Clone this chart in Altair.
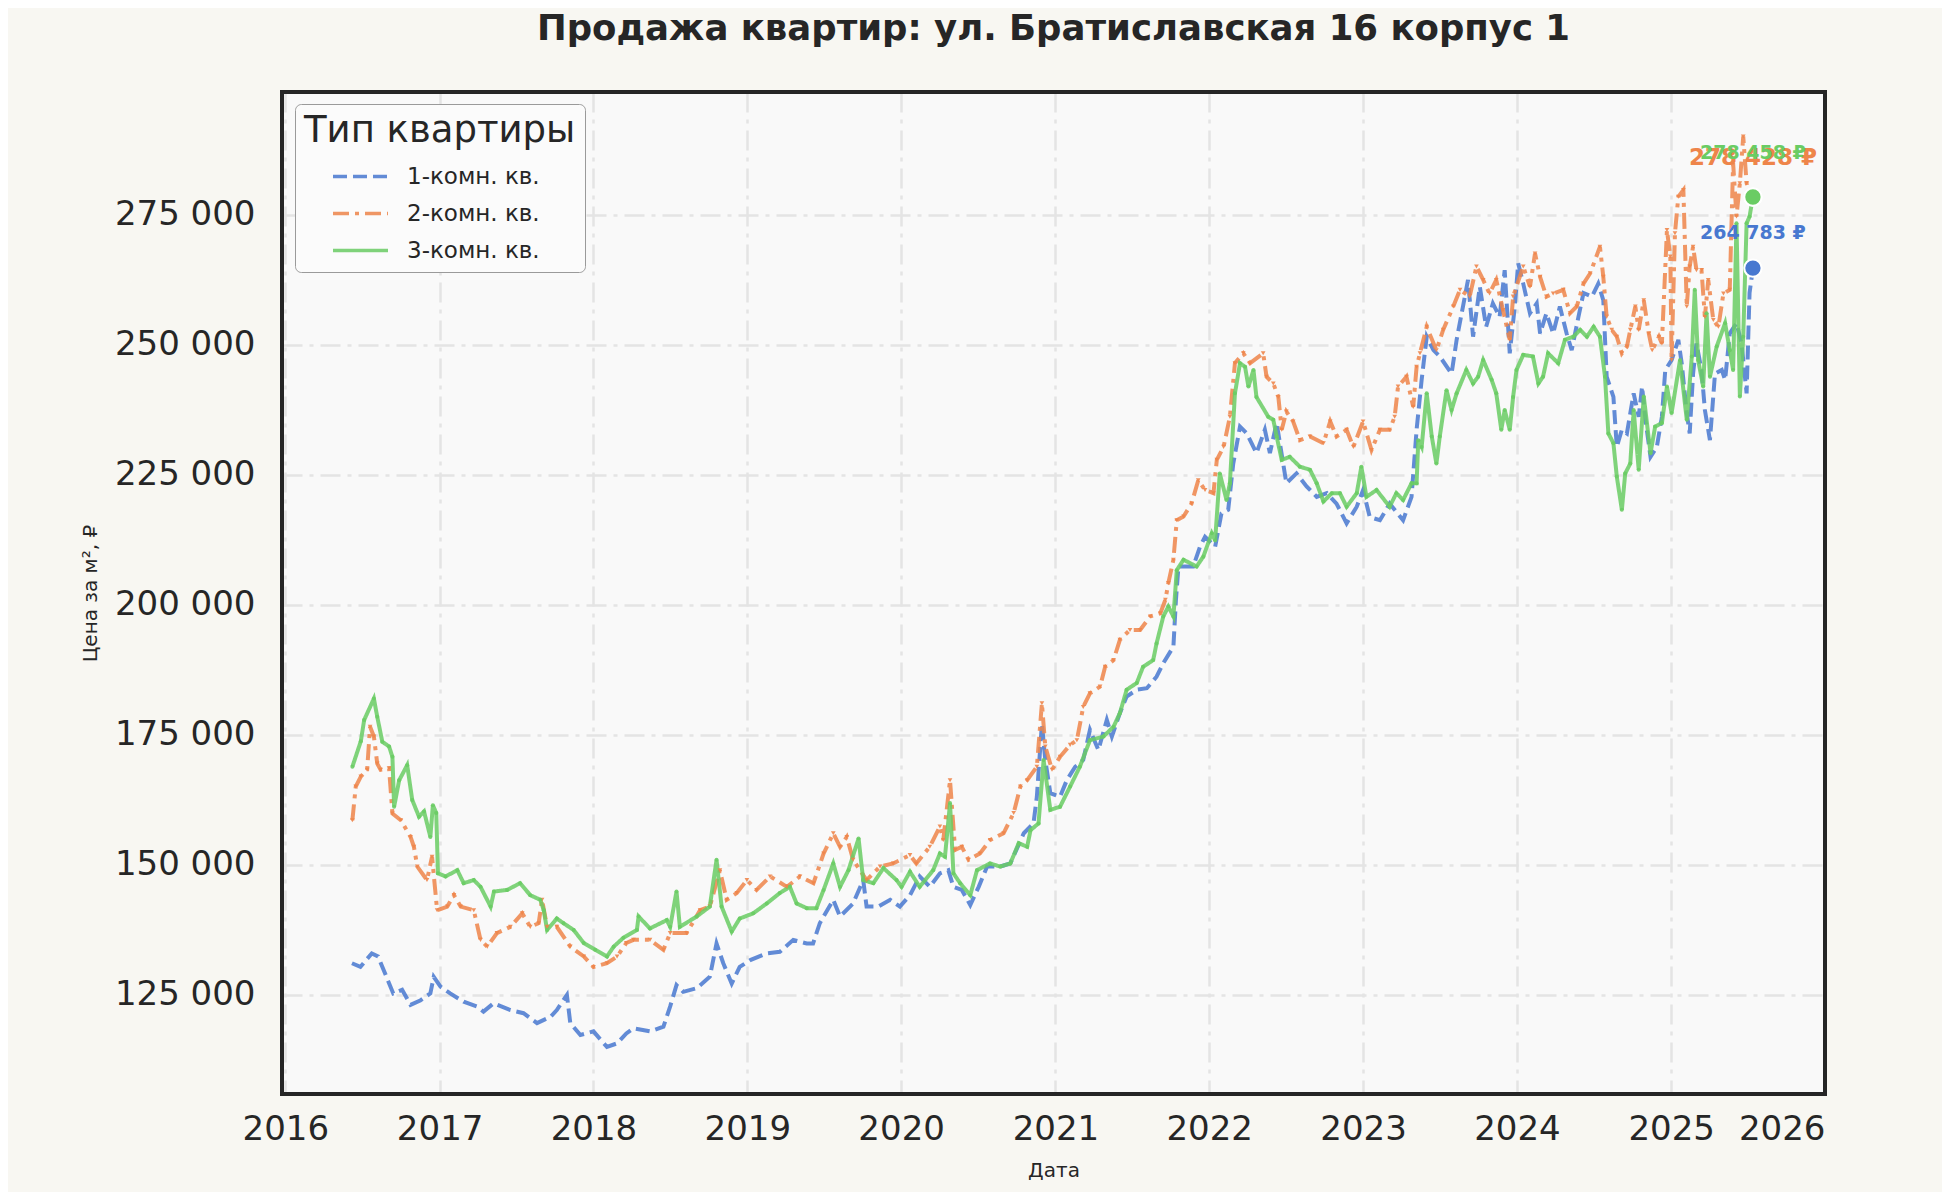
import altair as alt
import pandas as pd

TITLE = "Продажа квартир: ул. Братиславская 16 корпус 1"
series_names = ["1-комн. кв.", "2-комн. кв.", "3-комн. кв."]
colors = ["#4878D0", "#EE854A", "#6ACC64"]
y_ticks = [125000, 150000, 175000, 200000, 225000, 250000, 275000]
x_years = list(range(2016, 2027))

# (date, price per m2)
one_room = [
    ("2016-06-07", 131100), ("2016-06-27", 130400), ("2016-07-24", 133000), ("2016-08-08", 132400),
    ("2016-09-13", 125300), ("2016-10-04", 126000), ("2016-10-24", 123100), ("2016-11-17", 124000),
    ("2016-12-10", 125300), ("2016-12-18", 128500), ("2017-01-03", 126600), ("2017-01-26", 125300),
    ("2017-02-27", 123700), ("2017-03-30", 122800), ("2017-04-15", 121800), ("2017-05-09", 123400),
    ("2017-06-18", 122100), ("2017-07-19", 121500), ("2017-08-20", 119600), ("2017-09-21", 120800),
    ("2017-10-06", 122100), ("2017-10-30", 125000), ("2017-11-07", 119600), ("2017-12-01", 117300),
    ("2018-01-01", 118000), ("2018-02-02", 115000), ("2018-02-26", 115700), ("2018-03-20", 117600),
    ("2018-04-06", 118600), ("2018-05-15", 118000), ("2018-06-16", 118900), ("2018-07-02", 122800),
    ("2018-07-17", 126900), ("2018-08-02", 125600), ("2018-09-03", 126300), ("2018-10-04", 128500),
    ("2018-10-20", 134900), ("2018-11-05", 131100), ("2018-11-25", 127200), ("2018-12-14", 130400),
    ("2019-01-08", 131700), ("2019-02-16", 133000), ("2019-03-19", 133300), ("2019-04-20", 135600),
    ("2019-05-22", 134900), ("2019-06-06", 134900), ("2019-06-22", 138800), ("2019-07-24", 143300),
    ("2019-08-09", 140100), ("2019-09-09", 142600), ("2019-10-03", 147100), ("2019-10-11", 142000),
    ("2019-11-08", 142000), ("2019-12-06", 143300), ("2019-12-29", 142000), ("2020-01-22", 144200),
    ("2020-02-14", 147800), ("2020-03-09", 145800), ("2020-04-02", 148400), ("2020-04-22", 149000),
    ("2020-05-04", 145800), ("2020-05-24", 145200), ("2020-06-13", 142300), ("2020-07-03", 145800),
    ("2020-07-23", 149700), ("2020-08-23", 149700), ("2020-09-16", 150300), ("2020-10-18", 156100),
    ("2020-11-10", 158000), ("2020-11-18", 163100), ("2020-11-30", 177200), ("2020-12-08", 170200),
    ("2020-12-20", 163800), ("2021-01-12", 163100), ("2021-01-28", 166300), ("2021-02-17", 168900),
    ("2021-03-08", 170200), ("2021-03-24", 176000), ("2021-04-13", 172100), ("2021-05-03", 177900),
    ("2021-05-15", 174700), ("2021-06-03", 179200), ("2021-06-19", 182400), ("2021-07-13", 183700),
    ("2021-08-06", 184000), ("2021-08-29", 186200), ("2021-09-14", 188800), ("2021-10-08", 192000),
    ("2021-10-14", 201000), ("2021-10-20", 207400), ("2021-11-24", 207400), ("2021-12-10", 211200),
    ("2021-12-22", 213100), ("2022-01-15", 211200), ("2022-01-30", 217600), ("2022-02-15", 218300),
    ("2022-02-27", 227200), ("2022-03-15", 234300), ("2022-03-31", 233000), ("2022-04-23", 229200),
    ("2022-05-13", 233700), ("2022-05-25", 229200), ("2022-06-10", 235000), ("2022-07-03", 223400),
    ("2022-07-27", 225300), ("2022-08-20", 222800), ("2022-09-13", 220800), ("2022-10-07", 221500),
    ("2022-10-30", 219500), ("2022-11-23", 215700), ("2022-12-17", 218900), ("2023-01-01", 222100),
    ("2023-01-17", 216900), ("2023-02-10", 216300), ("2023-03-05", 219500), ("2023-04-06", 216300),
    ("2023-04-26", 220800), ("2023-05-08", 233700), ("2023-05-20", 243300), ("2023-06-01", 251600),
    ("2023-06-17", 249000), ("2023-07-02", 247800), ("2023-07-30", 244500), ("2023-08-11", 251000),
    ("2023-08-26", 257400), ("2023-09-07", 262500), ("2023-09-19", 251600), ("2023-10-05", 261200),
    ("2023-10-20", 253500), ("2023-11-05", 258000), ("2023-11-21", 255400), ("2023-12-03", 264400),
    ("2023-12-15", 248400), ("2023-12-27", 257400), ("2024-01-04", 265700), ("2024-01-16", 261800),
    ("2024-02-01", 256100), ("2024-02-17", 258000), ("2024-02-25", 252200), ("2024-03-11", 256100),
    ("2024-03-27", 252200), ("2024-04-12", 257400), ("2024-04-28", 252200), ("2024-05-10", 249000),
    ("2024-05-26", 255400), ("2024-06-07", 260000), ("2024-06-27", 259300), ("2024-07-12", 261800),
    ("2024-07-24", 258600), ("2024-08-01", 243900), ("2024-08-17", 240000), ("2024-08-25", 230400),
    ("2024-09-06", 233700), ("2024-09-18", 233000), ("2024-10-04", 240700), ("2024-10-16", 236200),
    ("2024-10-24", 242000), ("2024-11-01", 235600), ("2024-11-13", 228500), ("2024-11-28", 230400),
    ("2024-12-10", 236200), ("2024-12-18", 245200), ("2025-01-02", 247100), ("2025-01-18", 251000),
    ("2025-01-26", 246500), ("2025-02-07", 236900), ("2025-02-14", 233000), ("2025-02-22", 244500),
    ("2025-03-02", 250300), ("2025-03-14", 245200), ("2025-03-22", 237500), ("2025-04-03", 231700),
    ("2025-04-15", 244500), ("2025-05-01", 245200), ("2025-05-09", 243300), ("2025-05-20", 252200),
    ("2025-06-05", 254200), ("2025-06-17", 250300), ("2025-06-29", 240700), ("2025-07-06", 260000),
    ("2025-07-14", 264783),
]

two_room = [
    ("2016-06-08", 158600), ("2016-06-16", 165100), ("2016-06-28", 167000), ("2016-07-13", 168300),
    ("2016-07-20", 176600), ("2016-07-29", 174700), ("2016-08-06", 169500), ("2016-08-14", 168300),
    ("2016-09-03", 168600), ("2016-09-11", 159900), ("2016-10-01", 158600), ("2016-10-24", 155400),
    ("2016-11-01", 153500), ("2016-11-09", 149700), ("2016-12-02", 147100), ("2016-12-14", 151600),
    ("2016-12-26", 141300), ("2017-01-19", 142000), ("2017-02-04", 144200), ("2017-02-20", 142000),
    ("2017-03-23", 141300), ("2017-04-08", 135600), ("2017-04-24", 134300), ("2017-05-17", 136900),
    ("2017-06-18", 138100), ("2017-07-16", 140700), ("2017-08-04", 138100), ("2017-08-24", 138800),
    ("2017-09-01", 143300), ("2017-09-13", 138100), ("2017-10-06", 138100), ("2017-11-07", 134300),
    ("2017-12-09", 132400), ("2018-01-01", 130400), ("2018-02-02", 131100), ("2018-02-26", 132400),
    ("2018-03-20", 135000), ("2018-04-06", 135600), ("2018-05-15", 135600), ("2018-06-16", 133700),
    ("2018-07-02", 136900), ("2018-08-10", 136900), ("2018-09-11", 141300), ("2018-10-04", 142000),
    ("2018-10-28", 149000), ("2018-11-13", 143300), ("2018-12-07", 144600), ("2018-12-31", 147100),
    ("2019-01-23", 145200), ("2019-02-24", 147800), ("2019-04-05", 145800), ("2019-05-06", 147800),
    ("2019-06-07", 146500), ("2019-07-01", 152200), ("2019-07-24", 156100), ("2019-08-09", 153500),
    ("2019-08-25", 155400), ("2019-09-09", 151000), ("2019-10-11", 147100), ("2019-11-12", 149700),
    ("2019-12-13", 150300), ("2020-01-22", 151900), ("2020-02-06", 150300), ("2020-03-09", 153500),
    ("2020-04-02", 157400), ("2020-04-10", 154800), ("2020-04-26", 166300), ("2020-05-08", 152900),
    ("2020-05-24", 153500), ("2020-06-09", 151000), ("2020-07-06", 152200), ("2020-07-30", 154800),
    ("2020-08-31", 156100), ("2020-09-24", 160000), ("2020-10-10", 165100), ("2020-10-26", 166300),
    ("2020-11-18", 168900), ("2020-11-30", 181100), ("2020-12-08", 172800), ("2020-12-24", 168300),
    ("2021-01-12", 170800), ("2021-02-05", 173100), ("2021-02-21", 174000), ("2021-03-08", 180400),
    ("2021-03-24", 183000), ("2021-04-17", 184300), ("2021-04-29", 188100), ("2021-05-19", 189400),
    ("2021-06-03", 193300), ("2021-06-27", 195200), ("2021-07-21", 195200), ("2021-08-14", 197800),
    ("2021-09-07", 198400), ("2021-09-19", 201000), ("2021-09-26", 204200), ("2021-10-08", 208700),
    ("2021-10-16", 216300), ("2021-11-01", 217000), ("2021-11-20", 219500), ("2021-12-06", 224000),
    ("2021-12-22", 222100), ("2022-01-11", 221500), ("2022-01-19", 227900), ("2022-02-04", 230400),
    ("2022-02-19", 236200), ("2022-03-03", 246500), ("2022-03-23", 248400), ("2022-04-08", 246500),
    ("2022-05-09", 248400), ("2022-05-17", 243900), ("2022-06-02", 242600), ("2022-06-14", 240000),
    ("2022-06-22", 233700), ("2022-07-03", 237200), ("2022-07-19", 235300), ("2022-08-04", 231700),
    ("2022-08-28", 232400), ("2022-09-29", 231100), ("2022-10-15", 235300), ("2022-10-30", 232400),
    ("2022-11-23", 233700), ("2022-12-09", 230400), ("2023-01-01", 235300), ("2023-01-21", 229800),
    ("2023-02-10", 233700), ("2023-03-05", 233700), ("2023-03-17", 236200), ("2023-03-25", 242000),
    ("2023-04-14", 243900), ("2023-04-30", 238100), ("2023-05-08", 245800), ("2023-05-16", 248400),
    ("2023-06-01", 253500), ("2023-06-24", 249000), ("2023-07-10", 252900), ("2023-08-03", 257400),
    ("2023-08-19", 260600), ("2023-09-11", 259300), ("2023-09-27", 265100), ("2023-10-13", 262500),
    ("2023-10-28", 259900), ("2023-11-13", 262500), ("2023-11-29", 256700), ("2023-12-15", 251000),
    ("2023-12-23", 259300), ("2024-01-16", 265100), ("2024-02-01", 261200), ("2024-02-13", 267600),
    ("2024-02-25", 263100), ("2024-03-11", 259300), ("2024-03-27", 259900), ("2024-04-20", 260600),
    ("2024-05-06", 256100), ("2024-05-22", 257400), ("2024-06-07", 261800), ("2024-06-23", 263800),
    ("2024-07-16", 268900), ("2024-07-24", 263100), ("2024-08-01", 255400), ("2024-08-13", 252900),
    ("2024-08-25", 251600), ("2024-09-06", 248400), ("2024-09-18", 249700), ("2024-09-26", 252900),
    ("2024-10-08", 257400), ("2024-10-16", 252900), ("2024-10-28", 258600), ("2024-11-09", 252200),
    ("2024-11-17", 249000), ("2024-12-03", 251600), ("2024-12-10", 250300), ("2024-12-22", 272100),
    ("2024-12-30", 267000), ("2025-01-02", 247100), ("2025-01-10", 271500), ("2025-01-18", 278500),
    ("2025-01-30", 279800), ("2025-02-07", 257400), ("2025-02-14", 265100), ("2025-02-22", 268900),
    ("2025-03-02", 264400), ("2025-03-14", 264400), ("2025-03-22", 255400), ("2025-03-30", 262500),
    ("2025-04-11", 254800), ("2025-04-23", 253500), ("2025-05-05", 259900), ("2025-05-20", 260600),
    ("2025-05-28", 285000), ("2025-06-05", 274700), ("2025-06-13", 281100), ("2025-06-21", 290100),
    ("2025-06-29", 281100), ("2025-07-06", 279200), ("2025-07-14", 278428),
]

three_room = [
    ("2016-06-08", 168900), ("2016-06-28", 173800), ("2016-07-06", 177900), ("2016-07-29", 182000),
    ("2016-08-06", 178500), ("2016-08-18", 173700), ("2016-09-03", 172800), ("2016-09-11", 170800),
    ("2016-09-15", 161200), ("2016-09-27", 166300), ("2016-10-16", 169200), ("2016-10-28", 162500),
    ("2016-11-13", 159300), ("2016-11-25", 160300), ("2016-12-10", 155400), ("2016-12-16", 161500),
    ("2016-12-24", 160000), ("2016-12-28", 148400), ("2017-01-15", 147800), ("2017-02-12", 149000),
    ("2017-02-27", 146500), ("2017-03-23", 147100), ("2017-04-08", 145800), ("2017-05-02", 142000),
    ("2017-05-10", 144900), ("2017-06-10", 145200), ("2017-07-11", 146500), ("2017-08-04", 144200),
    ("2017-08-28", 143300), ("2017-09-05", 141300), ("2017-09-13", 137500), ("2017-10-06", 139700),
    ("2017-10-22", 138800), ("2017-11-15", 137500), ("2017-12-09", 135000), ("2018-01-05", 133700),
    ("2018-02-02", 132400), ("2018-02-18", 134300), ("2018-03-13", 136000), ("2018-04-14", 137500),
    ("2018-04-18", 140100), ("2018-05-15", 137800), ("2018-06-24", 139400), ("2018-07-02", 138100),
    ("2018-07-17", 144900), ("2018-07-25", 138100), ("2018-09-03", 140100), ("2018-10-04", 142000),
    ("2018-10-20", 151000), ("2018-11-01", 142000), ("2018-11-25", 137200), ("2018-12-14", 139700),
    ("2019-01-15", 140700), ("2019-02-16", 142600), ("2019-03-19", 144600), ("2019-04-12", 145800),
    ("2019-04-28", 142600), ("2019-05-22", 141700), ("2019-06-14", 141700), ("2019-07-01", 145200),
    ("2019-07-24", 150300), ("2019-08-09", 145800), ("2019-08-29", 149000), ("2019-09-22", 155100),
    ("2019-10-03", 147100), ("2019-10-27", 146500), ("2019-11-20", 149400), ("2019-12-21", 147100),
    ("2020-01-02", 145800), ("2020-01-22", 148700), ("2020-02-14", 145800), ("2020-03-17", 149000),
    ("2020-04-02", 152200), ("2020-04-14", 151600), ("2020-04-26", 161900), ("2020-05-04", 148400),
    ("2020-05-20", 146500), ("2020-06-13", 144200), ("2020-06-29", 149000), ("2020-07-30", 150300),
    ("2020-08-23", 149700), ("2020-09-16", 150300), ("2020-10-06", 154200), ("2020-10-26", 153500),
    ("2020-11-03", 156700), ("2020-11-22", 158000), ("2020-12-04", 170200), ("2020-12-20", 160600),
    ("2021-01-12", 161200), ("2021-02-05", 165100), ("2021-02-28", 168900), ("2021-03-24", 174000),
    ("2021-04-25", 174700), ("2021-05-19", 176600), ("2021-06-03", 179200), ("2021-06-19", 183700),
    ("2021-07-13", 185000), ("2021-07-28", 188100), ("2021-08-21", 189400), ("2021-08-29", 192600),
    ("2021-09-14", 197800), ("2021-09-26", 199700), ("2021-10-08", 197800), ("2021-10-16", 206700),
    ("2021-11-01", 208700), ("2021-12-02", 207400), ("2021-12-18", 209300), ("2022-01-07", 213800),
    ("2022-01-15", 212400), ("2022-01-26", 225300), ("2022-02-11", 220200), ("2022-02-19", 223400),
    ("2022-03-03", 240700), ("2022-03-15", 246500), ("2022-03-27", 245800), ("2022-04-04", 242000),
    ("2022-04-16", 245200), ("2022-04-23", 240000), ("2022-05-21", 236200), ("2022-06-02", 235600),
    ("2022-06-10", 232400), ("2022-06-22", 227900), ("2022-07-11", 228500), ("2022-08-04", 226600),
    ("2022-08-28", 226000), ("2022-09-13", 223400), ("2022-09-29", 219900), ("2022-10-19", 221500),
    ("2022-11-07", 221500), ("2022-11-23", 218900), ("2022-12-17", 221500), ("2022-12-28", 226600),
    ("2023-01-09", 220800), ("2023-02-02", 222100), ("2023-03-05", 218900), ("2023-03-21", 221500),
    ("2023-04-06", 220200), ("2023-04-26", 223400), ("2023-05-08", 223400), ("2023-05-12", 231700),
    ("2023-05-20", 230400), ("2023-06-01", 240700), ("2023-06-13", 232400), ("2023-06-24", 227200),
    ("2023-07-02", 232400), ("2023-07-18", 241300), ("2023-07-30", 237500), ("2023-08-11", 240700),
    ("2023-09-03", 245200), ("2023-09-19", 242600), ("2023-10-01", 243900), ("2023-10-13", 247100),
    ("2023-11-02", 243300), ("2023-11-13", 240700), ("2023-11-25", 233700), ("2023-12-03", 237500),
    ("2023-12-15", 233700), ("2023-12-23", 240000), ("2023-12-31", 245200), ("2024-01-16", 248100),
    ("2024-02-08", 247800), ("2024-02-21", 242600), ("2024-03-03", 243900), ("2024-03-15", 248400),
    ("2024-04-08", 246500), ("2024-04-24", 251000), ("2024-05-14", 251600), ("2024-05-30", 252900),
    ("2024-06-15", 251600), ("2024-07-01", 253500), ("2024-07-16", 251600), ("2024-07-28", 243900),
    ("2024-08-05", 233000), ("2024-08-17", 231100), ("2024-08-25", 224700), ("2024-09-06", 218300),
    ("2024-09-14", 225300), ("2024-09-26", 227200), ("2024-10-04", 237500), ("2024-10-16", 226000),
    ("2024-10-28", 240100), ("2024-11-13", 229200), ("2024-11-24", 234300), ("2024-12-10", 235000),
    ("2024-12-22", 242000), ("2025-01-02", 236900), ("2025-01-22", 247100), ("2025-02-07", 235600),
    ("2025-02-19", 247800), ("2025-02-26", 260600), ("2025-03-06", 247100), ("2025-03-18", 242000),
    ("2025-03-26", 256100), ("2025-04-03", 243900), ("2025-04-19", 249700), ("2025-05-09", 254200),
    ("2025-05-20", 249000), ("2025-05-28", 245200), ("2025-06-05", 273400), ("2025-06-13", 240100),
    ("2025-06-21", 251600), ("2025-06-29", 273400), ("2025-07-06", 274700), ("2025-07-14", 278458),
]

all_series = [one_room, two_room, three_room]

frames = []
for name, pts in zip(series_names, all_series):
    frames.append(pd.DataFrame({
        "type": name,
        "date": [d for d, _ in pts],
        "price": [v for _, v in pts],
    }))
df = pd.concat(frames, ignore_index=True)

# last point of every series, with its label
end_df = pd.DataFrame({
    "type": series_names,
    "date": [pts[-1][0] for pts in all_series],
    "price": [pts[-1][1] for pts in all_series],
})
end_df["label"] = [f"{v:,}".replace(",", " ") + " ₽" for v in end_df["price"]]

FONT = "DejaVu Sans"
INK = "#262626"
W, H = 1543, 1002

x_enc = alt.X(
    "date:T",
    title="Дата",
    scale=alt.Scale(
        type="utc",
        domain=[alt.DateTime(year=2015, month=12, date=24, utc=True),
                alt.DateTime(year=2026, month=1, date=1, utc=True)],
    ),
    axis=alt.Axis(
        values=[alt.DateTime(year=y, month=1, date=1, utc=True) for y in x_years],
        format="%Y", formatType="utc", labelPadding=18, titlePadding=14,
    ),
)
y_enc = alt.Y(
    "price:Q",
    title="Цена за м², ₽",
    scale=alt.Scale(domain=[105960, 298650], nice=False, zero=False),
    axis=alt.Axis(
        values=y_ticks,
        labelExpr="replace(format(datum.value, ','), ',', ' ')",
        labelPadding=27, titlePadding=14,
    ),
)

lines = alt.Chart(df).mark_line(strokeWidth=4, opacity=0.85).encode(
    x=x_enc,
    y=y_enc,
    color=alt.Color(
        "type:N",
        scale=alt.Scale(domain=series_names, range=colors),
        legend=alt.Legend(title="Тип квартиры"),
    ),
    strokeDash=alt.StrokeDash(
        "type:N",
        scale=alt.Scale(domain=series_names, range=[[14, 6], [16, 6, 4, 6], [1, 0]]),
        legend=alt.Legend(title="Тип квартиры"),
    ),
)

tri = (
    alt.Chart(df)
    .transform_filter(alt.datum.type == series_names[1])
    .mark_point(shape="triangle-down", filled=True, size=22, color=colors[1], opacity=0.9)
    .encode(x=x_enc, y=y_enc)
)
dots = (
    alt.Chart(df)
    .transform_filter(alt.datum.type == series_names[2])
    .mark_point(shape="circle", filled=True, size=16, color=colors[2], opacity=0.9)
    .encode(x=x_enc, y=y_enc)
)

end_layers = []
for i in [0, 1, 2]:
    end_layers.append(
        alt.Chart(end_df)
        .transform_filter(alt.datum.type == series_names[i])
        .mark_point(shape="circle", filled=True, size=300, color=colors[i],
                    stroke="white", strokeWidth=2, opacity=1)
        .encode(x=x_enc, y=y_enc)
    )
label_style = {0: (19, -35), 1: (23, -39), 2: (19, -44)}
for i in [0, 1, 2]:
    fs, dy = label_style[i]
    end_layers.append(
        alt.Chart(end_df)
        .transform_filter(alt.datum.type == series_names[i])
        .mark_text(font=FONT, fontWeight="bold", fontSize=fs, dy=dy, color=colors[i], align="center")
        .encode(x=x_enc, y=y_enc, text="label:N")
    )

# axes frame drawn on top, like matplotlib spines
frame = alt.Chart(df).mark_rect(fill=None, stroke=INK, strokeWidth=3.5).encode(
    x=alt.value(0), x2=alt.value(W), y=alt.value(0), y2=alt.value(H)
)

chart = (
    alt.layer(lines, tri, dots, *end_layers, frame)
    .properties(
        width=W,
        height=H,
        title=alt.TitleParams(
            TITLE, font=FONT, fontSize=35.5, fontWeight="bold", color=INK,
            anchor="middle", baseline="alphabetic", offset=15,
        ),
        background="#f8f7f2",
        padding={"left": 274, "top": 84, "right": 117, "bottom": 98},
        autosize=alt.AutoSizeParams(type="none"),
    )
    .configure_view(fill="#f9f9f9", stroke=None)
    .configure_axis(
        grid=True,
        gridColor="#e4e4e4",
        gridDash=[20, 7, 4, 7],
        gridWidth=2.5,
        domain=False,
        ticks=False,
        labelFont=FONT,
        labelFontSize=34,
        labelColor=INK,
        titleFont=FONT,
        titleFontSize=20,
        titleFontWeight="normal",
        titleColor=INK,
    )
    .configure_legend(
        orient="none",
        legendX=13,
        legendY=12,
        titleFont=FONT,
        titleFontSize=37,
        titleFontWeight="normal",
        titleColor=INK,
        titlePadding=15,
        titleLimit=600,
        labelFont=FONT,
        labelFontSize=23,
        labelColor=INK,
        labelOffset=17,
        symbolType="stroke",
        symbolSize=3025,
        symbolStrokeWidth=3.5,
        symbolOffset=27,
        clipHeight=23,
        rowPadding=13,
        padding=9,
        strokeColor="#9a9a9a",
        fillColor="#fbfbfb",
        cornerRadius=6,
    )
)

chart.save("out.html", embed_options={"renderer": "svg", "actions": False})
